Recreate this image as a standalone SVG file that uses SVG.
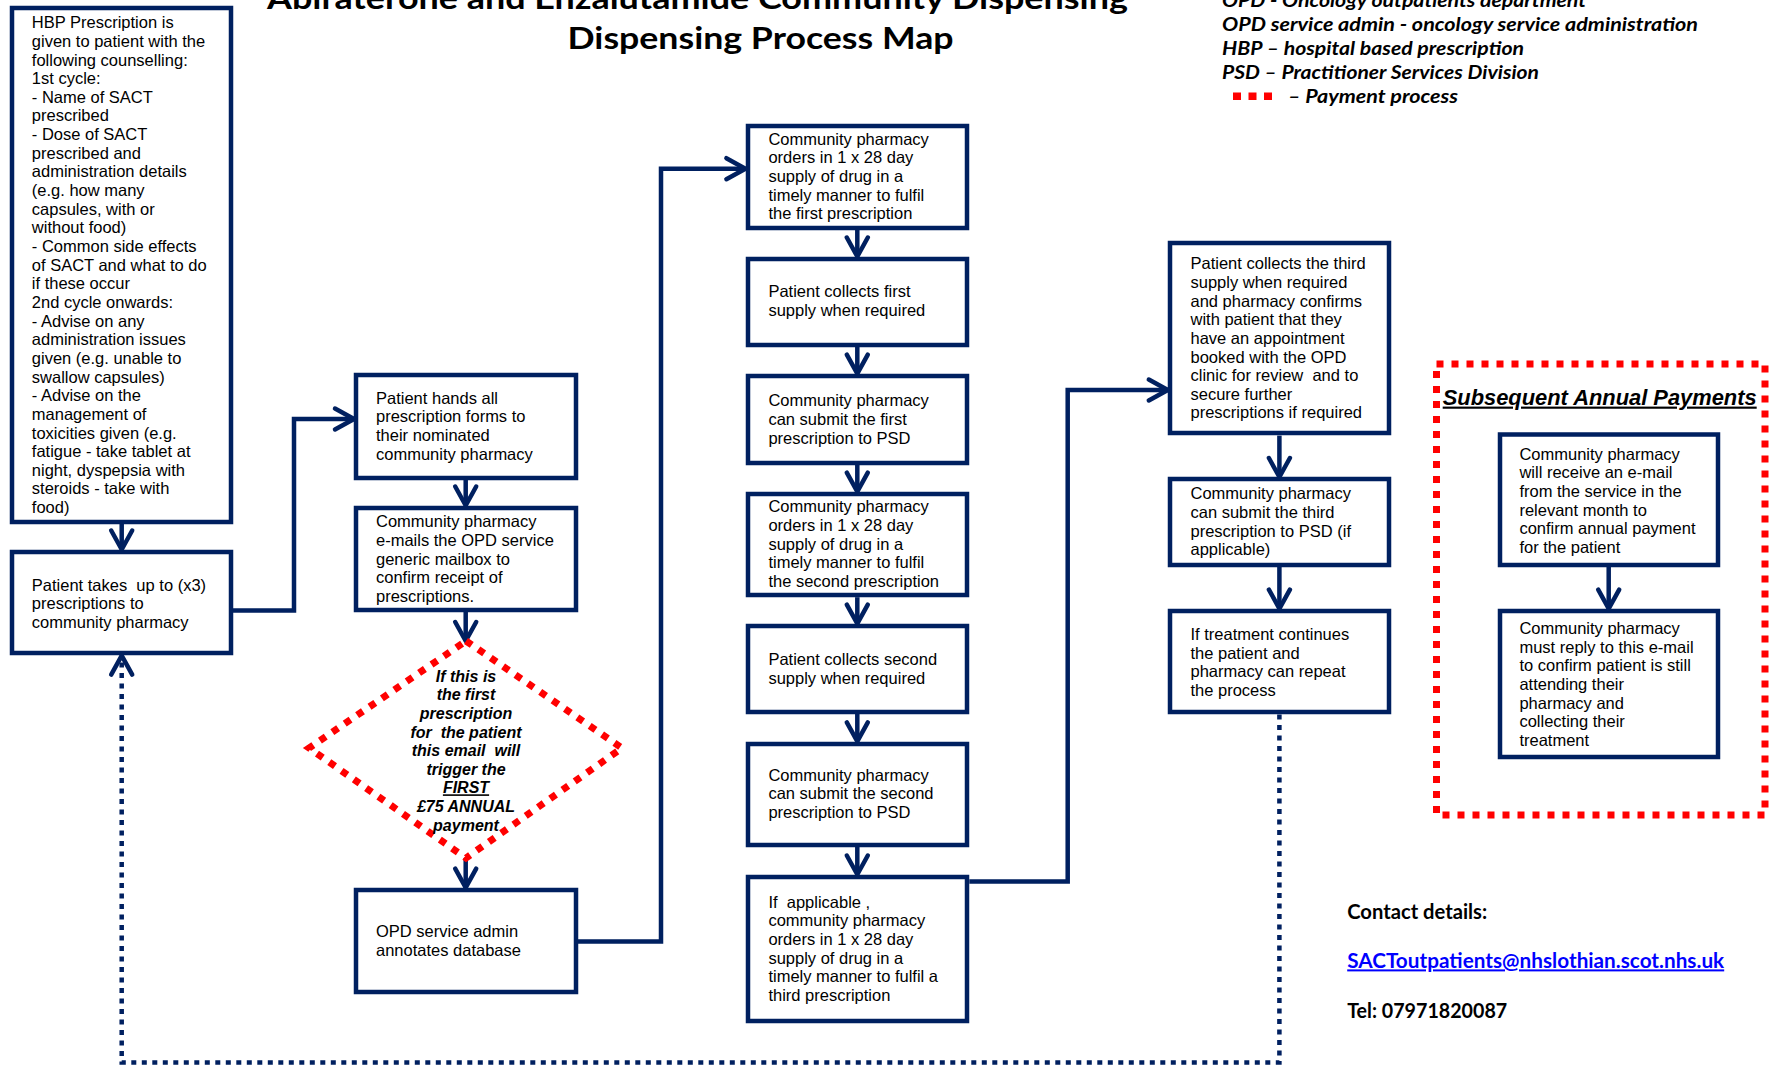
<svg xmlns="http://www.w3.org/2000/svg" width="1774" height="1065" viewBox="0 0 1774 1065">
<defs>
<style>
.box{fill:#ffffff;stroke:#002060;stroke-width:4.5}
.t{font-family:"Liberation Sans",Arial,sans-serif;font-size:16.5px;fill:#000000}
.d{font-family:"Liberation Sans",Arial,sans-serif;font-size:16px;font-weight:bold;font-style:italic;fill:#000000;text-anchor:middle}
.ttl{font-family:Lato,"Open Sans",sans-serif;font-size:30px;font-weight:bold;fill:#000000}
.leg{font-family:Lato,"Open Sans",sans-serif;font-size:18.5px;font-weight:bold;font-style:italic;fill:#000000}
.con{fill:none;stroke:#002060;stroke-width:4.5}
.dot{fill:none;stroke:#002060;stroke-width:4.5;stroke-dasharray:5 5.5}
.pay{fill:none;stroke:#ff0000;stroke-width:7;stroke-dasharray:7 8}
.ct{font-family:Lato,"Open Sans",sans-serif;font-size:20px;font-weight:bold;fill:#000000}
</style>
<marker id="ah" markerUnits="userSpaceOnUse" viewBox="-24 -14 28 28" refX="0" refY="0" markerWidth="28" markerHeight="28" orient="auto">
<path d="M-19,-10.5 L0,0 L-19,10.5" fill="none" stroke="#002060" stroke-width="4.5" stroke-dasharray="none" stroke-linecap="round" stroke-linejoin="round"/>
</marker>
</defs>
<rect width="1774" height="1065" fill="#ffffff"/>

<g id="title">
<text class="ttl" x="267" y="9" textLength="861" lengthAdjust="spacingAndGlyphs">Abiraterone and Enzalutamide Community Dispensing</text>
<text class="ttl" x="567.5" y="49" textLength="386" lengthAdjust="spacingAndGlyphs">Dispensing Process Map</text>
</g>

<g id="legend">
<text class="leg" x="1222" y="7" textLength="364" lengthAdjust="spacingAndGlyphs">OPD - Oncology outpatients department</text>
<text class="leg" x="1222" y="31" textLength="476" lengthAdjust="spacingAndGlyphs">OPD service admin - oncology service administration</text>
<text class="leg" x="1222" y="55" textLength="302" lengthAdjust="spacingAndGlyphs">HBP – hospital based prescription</text>
<text class="leg" x="1222" y="79" textLength="317" lengthAdjust="spacingAndGlyphs">PSD – Practitioner Services Division</text>
<rect x="1233" y="92.5" width="8" height="7.5" fill="#ff0000"/>
<rect x="1248.5" y="92.5" width="8" height="7.5" fill="#ff0000"/>
<rect x="1264" y="92.5" width="8" height="7.5" fill="#ff0000"/>
<text class="leg" x="1288" y="103" textLength="170" lengthAdjust="spacingAndGlyphs">– Payment process</text>
</g>

<g id="connectors">
<line class="con" x1="121.7" y1="524" x2="121.7" y2="549.5" marker-end="url(#ah)"/>
<polyline class="con" points="233,610.4 294,610.4 294,419 354,419" marker-end="url(#ah)"/>
<line class="con" x1="465.7" y1="480" x2="465.7" y2="505.5" marker-end="url(#ah)"/>
<line class="con" x1="465.7" y1="612" x2="465.7" y2="641" marker-end="url(#ah)"/>
<line class="con" x1="465.7" y1="858" x2="465.7" y2="887.7" marker-end="url(#ah)"/>
<polyline class="con" points="578,941.6 661,941.6 661,168.7 745.4,168.7" marker-end="url(#ah)"/>
<line class="con" x1="857.3" y1="230" x2="857.3" y2="256.5" marker-end="url(#ah)"/>
<line class="con" x1="857.3" y1="346.8" x2="857.3" y2="373.6" marker-end="url(#ah)"/>
<line class="con" x1="857.3" y1="464.9" x2="857.3" y2="491.7" marker-end="url(#ah)"/>
<line class="con" x1="857.3" y1="597.2" x2="857.3" y2="623.6" marker-end="url(#ah)"/>
<line class="con" x1="857.3" y1="714" x2="857.3" y2="741.4" marker-end="url(#ah)"/>
<line class="con" x1="857.3" y1="846.7" x2="857.3" y2="874.5" marker-end="url(#ah)"/>
<polyline class="con" points="969.3,881.5 1067.7,881.5 1067.7,390 1167.8,390" marker-end="url(#ah)"/>
<line class="con" x1="1279.4" y1="435.6" x2="1279.4" y2="477" marker-end="url(#ah)"/>
<line class="con" x1="1279.4" y1="567" x2="1279.4" y2="608.6" marker-end="url(#ah)"/>
<line class="con" x1="1608.7" y1="567" x2="1608.7" y2="608.6" marker-end="url(#ah)"/>
<polyline class="dot" points="1279.4,714.6 1279.4,1062.5 121.7,1062.5 121.7,655.6" marker-end="url(#ah)"/>
</g>

<g id="hbp">
<rect class="box" x="12" y="8" width="219" height="514"/>
<text class="t" x="31.8">
<tspan x="31.8" y="28.2">HBP Prescription is</tspan>
<tspan x="31.8" y="46.85">given to patient with the</tspan>
<tspan x="31.8" y="65.5">following counselling:</tspan>
<tspan x="31.8" y="84.15">1st cycle:</tspan>
<tspan x="31.8" y="102.8">- Name of SACT</tspan>
<tspan x="31.8" y="121.45">prescribed</tspan>
<tspan x="31.8" y="140.1">- Dose of SACT</tspan>
<tspan x="31.8" y="158.75">prescribed and</tspan>
<tspan x="31.8" y="177.4">administration details</tspan>
<tspan x="31.8" y="196.05">(e.g. how many</tspan>
<tspan x="31.8" y="214.7">capsules, with or</tspan>
<tspan x="31.8" y="233.35">without food)</tspan>
<tspan x="31.8" y="252">- Common side effects</tspan>
<tspan x="31.8" y="270.65">of SACT and what to do</tspan>
<tspan x="31.8" y="289.3">if these occur</tspan>
<tspan x="31.8" y="307.95">2nd cycle onwards:</tspan>
<tspan x="31.8" y="326.6">- Advise on any</tspan>
<tspan x="31.8" y="345.25">administration issues</tspan>
<tspan x="31.8" y="363.9">given (e.g. unable to</tspan>
<tspan x="31.8" y="382.55">swallow capsules)</tspan>
<tspan x="31.8" y="401.2">- Advise on the</tspan>
<tspan x="31.8" y="419.85">management of</tspan>
<tspan x="31.8" y="438.5">toxicities given (e.g.</tspan>
<tspan x="31.8" y="457.15">fatigue - take tablet at</tspan>
<tspan x="31.8" y="475.8">night, dyspepsia with</tspan>
<tspan x="31.8" y="494.45">steroids - take with</tspan>
<tspan x="31.8" y="513.1">food)</tspan>
</text>
</g>

<g id="patient-takes">
<rect class="box" x="12" y="552" width="219" height="101"/>
<text class="t" xml:space="preserve"><tspan x="31.8" y="590.6">Patient takes  up to (x3)</tspan><tspan x="31.8" y="609.2">prescriptions to</tspan><tspan x="31.8" y="627.8">community pharmacy</tspan></text>
</g>

<g id="patient-hands">
<rect class="box" x="356" y="375" width="220" height="103"/>
<text class="t"><tspan x="376" y="403.6">Patient hands all</tspan><tspan x="376" y="422.4">prescription forms to</tspan><tspan x="376" y="441.2">their nominated</tspan><tspan x="376" y="460">community pharmacy</tspan></text>
</g>

<g id="emails">
<rect class="box" x="356" y="508" width="220" height="102"/>
<text class="t"><tspan x="376" y="527.4">Community pharmacy</tspan><tspan x="376" y="546">e-mails the OPD service</tspan><tspan x="376" y="564.6">generic mailbox to</tspan><tspan x="376" y="583.2">confirm receipt of</tspan><tspan x="376" y="601.8">prescriptions.</tspan></text>
</g>

<g id="decision">
<polygon class="pay" points="466,641 622,748 466,858 309,748"/>
<text class="d" xml:space="preserve"><tspan x="466" y="681.7">If this is</tspan><tspan x="466" y="700.3">the first</tspan><tspan x="466" y="718.9">prescription</tspan><tspan x="466" y="737.5">for  the patient</tspan><tspan x="466" y="756.1">this email  will</tspan><tspan x="466" y="774.7">trigger the</tspan><tspan x="466" y="793.3" text-decoration="underline">FIRST</tspan><tspan x="466" y="811.9">£75 ANNUAL</tspan><tspan x="466" y="830.5">payment</tspan></text>
</g>

<g id="opd-admin">
<rect class="box" x="356" y="890" width="220" height="102"/>
<text class="t"><tspan x="376" y="937">OPD service admin</tspan><tspan x="376" y="955.6">annotates database</tspan></text>
</g>

<g id="order-first">
<rect class="box" x="748" y="126" width="219" height="102"/>
<text class="t"><tspan x="768.4" y="144.6">Community pharmacy</tspan><tspan x="768.4" y="163.3">orders in 1 x 28 day</tspan><tspan x="768.4" y="182">supply of drug in a</tspan><tspan x="768.4" y="200.7">timely manner to fulfil</tspan><tspan x="768.4" y="219.4">the first prescription</tspan></text>
</g>

<g id="collect-first">
<rect class="box" x="748" y="259" width="219" height="86"/>
<text class="t"><tspan x="768.4" y="296.8">Patient collects first</tspan><tspan x="768.4" y="315.6">supply when required</tspan></text>
</g>

<g id="submit-first">
<rect class="box" x="748" y="376" width="219" height="87"/>
<text class="t"><tspan x="768.4" y="406.3">Community pharmacy</tspan><tspan x="768.4" y="425">can submit the first</tspan><tspan x="768.4" y="443.6">prescription to PSD</tspan></text>
</g>

<g id="order-second">
<rect class="box" x="748" y="494" width="219" height="101"/>
<text class="t"><tspan x="768.4" y="512.4">Community pharmacy</tspan><tspan x="768.4" y="531">orders in 1 x 28 day</tspan><tspan x="768.4" y="549.6">supply of drug in a</tspan><tspan x="768.4" y="568.2">timely manner to fulfil</tspan><tspan x="768.4" y="586.8">the second prescription</tspan></text>
</g>

<g id="collect-second">
<rect class="box" x="748" y="626" width="219" height="86"/>
<text class="t"><tspan x="768.4" y="665.3">Patient collects second</tspan><tspan x="768.4" y="684">supply when required</tspan></text>
</g>

<g id="submit-second">
<rect class="box" x="748" y="744" width="219" height="101"/>
<text class="t"><tspan x="768.4" y="780.7">Community pharmacy</tspan><tspan x="768.4" y="799.4">can submit the second</tspan><tspan x="768.4" y="818.1">prescription to PSD</tspan></text>
</g>

<g id="order-third">
<rect class="box" x="748" y="877" width="219" height="144"/>
<text class="t" xml:space="preserve"><tspan x="768.4" y="907.6">If  applicable ,</tspan><tspan x="768.4" y="926.2">community pharmacy</tspan><tspan x="768.4" y="944.9">orders in 1 x 28 day</tspan><tspan x="768.4" y="963.5">supply of drug in a</tspan><tspan x="768.4" y="982.1">timely manner to fulfil a</tspan><tspan x="768.4" y="1000.8">third prescription</tspan></text>
</g>

<g id="collect-third">
<rect class="box" x="1170" y="243" width="219" height="190"/>
<text class="t" xml:space="preserve"><tspan x="1190.5" y="269.3">Patient collects the third</tspan><tspan x="1190.5" y="287.9">supply when required</tspan><tspan x="1190.5" y="306.6">and pharmacy confirms</tspan><tspan x="1190.5" y="325.2">with patient that they</tspan><tspan x="1190.5" y="343.9">have an appointment</tspan><tspan x="1190.5" y="362.5">booked with the OPD</tspan><tspan x="1190.5" y="381.1">clinic for review  and to</tspan><tspan x="1190.5" y="399.8">secure further</tspan><tspan x="1190.5" y="418.4">prescriptions if required</tspan></text>
</g>

<g id="submit-third">
<rect class="box" x="1170" y="479" width="219" height="86"/>
<text class="t"><tspan x="1190.5" y="499.3">Community pharmacy</tspan><tspan x="1190.5" y="518">can submit the third</tspan><tspan x="1190.5" y="536.6">prescription to PSD (if</tspan><tspan x="1190.5" y="555.2">applicable)</tspan></text>
</g>

<g id="repeat">
<rect class="box" x="1170" y="611" width="219" height="101"/>
<text class="t"><tspan x="1190.5" y="640">If treatment continues</tspan><tspan x="1190.5" y="658.6">the patient and</tspan><tspan x="1190.5" y="677.2">pharmacy can repeat</tspan><tspan x="1190.5" y="695.8">the process</tspan></text>
</g>

<g id="annual-payments">
<rect class="pay" x="1436.5" y="364" width="328.5" height="451"/>
<text x="1442.7" y="404.6" font-family="'Liberation Sans',Arial,sans-serif" font-size="21.5" font-weight="bold" font-style="italic" text-decoration="underline" textLength="314" lengthAdjust="spacingAndGlyphs">Subsequent  Annual Payments</text>
</g>

<g id="receive-email">
<rect class="box" x="1500" y="434.5" width="218" height="130.5"/>
<text class="t"><tspan x="1519.4" y="459.7">Community pharmacy</tspan><tspan x="1519.4" y="478.4">will receive an e-mail</tspan><tspan x="1519.4" y="497">from the service in the</tspan><tspan x="1519.4" y="515.7">relevant month to</tspan><tspan x="1519.4" y="534.3">confirm annual payment</tspan><tspan x="1519.4" y="553">for the patient</tspan></text>
</g>

<g id="reply-email">
<rect class="box" x="1500" y="611" width="218" height="146"/>
<text class="t"><tspan x="1519.4" y="634">Community pharmacy</tspan><tspan x="1519.4" y="652.7">must reply to this e-mail</tspan><tspan x="1519.4" y="671.3">to confirm patient is still</tspan><tspan x="1519.4" y="690">attending their</tspan><tspan x="1519.4" y="708.6">pharmacy and</tspan><tspan x="1519.4" y="727.3">collecting their</tspan><tspan x="1519.4" y="746">treatment</tspan></text>
</g>

<g id="contact">
<text class="ct" x="1347.2" y="919" textLength="140" lengthAdjust="spacingAndGlyphs">Contact details:</text>
<text class="ct" x="1347.2" y="968.4" style="fill:#0000ff" text-decoration="underline" textLength="377" lengthAdjust="spacingAndGlyphs">SACToutpatients@nhslothian.scot.nhs.uk</text>
<text class="ct" x="1347.2" y="1017.7" textLength="160" lengthAdjust="spacingAndGlyphs">Tel: 07971820087</text>
</g>
</svg>
